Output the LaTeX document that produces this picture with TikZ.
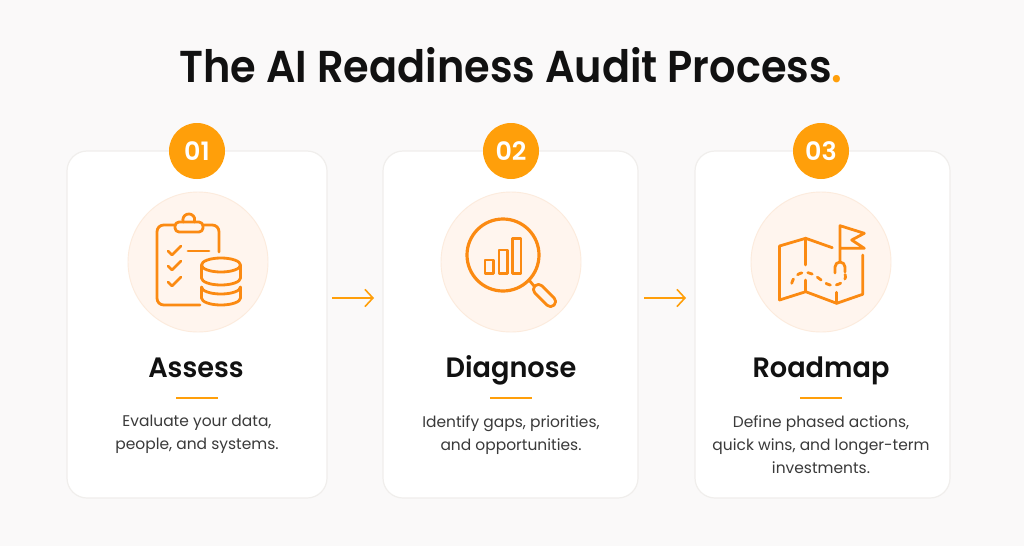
\documentclass[tikz,border=0pt]{standalone}
\usepackage{fontspec}
\setmainfont{Poppins}
\newfontfamily\semi{Poppins SemiBold}
\newfontfamily\semititle[FakeStretch=0.928]{Poppins SemiBold}
\newfontfamily\semihead[FakeStretch=0.97]{Poppins SemiBold}
\usetikzlibrary{arrows.meta}
\definecolor{bgc}{HTML}{FAF9F9}
\definecolor{edgec}{HTML}{F0EEEC}
\definecolor{orb}{HTML}{FF9F0A}
\definecolor{ico}{HTML}{FB8A12}
\definecolor{halo}{HTML}{FFF5EE}
\definecolor{haloe}{HTML}{FCEBDD}
\definecolor{ink}{HTML}{111111}
\definecolor{body}{HTML}{3A3A3A}
\tikzset{
  card/.style={draw=edgec,line width=0.9pt,fill=white,rounded corners=15pt,minimum height=260.25pt,inner sep=0pt},
  badge/.style={circle,fill=orb,text=white,minimum size=42pt,inner sep=0pt,font=\fontsize{19}{19}\selectfont\semi},
  halocirc/.style={circle,fill=halo,draw=haloe,line width=0.7pt,minimum size=105pt,inner sep=0pt},
  cardtitle/.style={text=ink,font=\fontsize{21}{21}\selectfont\semihead,inner sep=0pt,anchor=base},
  cardtext/.style={text=body,font=\fontsize{11.6}{17.3}\selectfont,align=center,inner sep=0pt,anchor=north},
  rule/.style={draw=orb,line width=1.2pt},
  icon/.style={draw=ico,line width=2.1pt,line cap=round,line join=round},
  flow/.style={draw=orb,line width=1.2pt,-{Straight Barb[length=6pt,width=13pt,line width=1.2pt]}}
}
\begin{document}
\begin{tikzpicture}[x=0.75pt,y=-0.75pt]
\useasboundingbox (0,0) rectangle (1024,546);
\fill[bgc] (0,0) rectangle (1024,546);
\node[text=ink,font=\fontsize{33.5}{33.5}\selectfont\semititle,inner sep=0pt,anchor=base] (title) at (511,82) {The AI Readiness Audit Process\textcolor{orb}{.}};
\node[card,minimum width=195pt] (c1) at (197,324.5) {};
\node[card,minimum width=191.25pt] (c2) at (510.5,324.5) {};
\node[card,minimum width=191.25pt] (c3) at (822.5,324.5) {};
\node[badge] (b1) at (197,151) {01};
\node[badge] (b2) at (511,151) {02};
\node[badge] (b3) at (821,151) {03};
\node[halocirc] (h1) at (198,262) {};
\node[halocirc] (h2) at (511,262) {};
\node[halocirc] (h3) at (821,262) {};
\node[cardtitle] (t1) at (196,377) {Assess};
\node[cardtitle] (t2) at (511,377) {Diagnose};
\node[cardtitle] (t3) at (821,377) {Roadmap};
\coordinate (r1a) at (176,398); \coordinate (r1b) at (218,398);
\coordinate (r2a) at (490,398); \coordinate (r2b) at (532,398);
\coordinate (r3a) at (800,398); \coordinate (r3b) at (842,398);
\draw[rule] (r1a) -- (r1b);
\draw[rule] (r2a) -- (r2b);
\draw[rule] (r3a) -- (r3b);
\node[cardtext] (d1) at (197,415) {Evaluate your data,\\people, and systems.};
\node[cardtext] (d2) at (511,415) {Identify gaps, priorities,\\and opportunities.};
\node[cardtext] (d3) at (821,415) {Define phased actions,\\quick wins, and longer-term\\investments.};
\coordinate (a1s) at (332,298); \coordinate (a1e) at (374,298);
\coordinate (a2s) at (644,298); \coordinate (a2e) at (686,298);
\draw[flow] (a1s) -- (a1e);
\draw[flow] (a2s) -- (a2e);
% clipboard icon
\draw[icon,rounded corners=5pt] (200,305) -- (157,305) -- (157,225) -- (175,225);
\draw[icon,rounded corners=5pt] (203,225) -- (219,225) -- (219,252);
\draw[icon,rounded corners=3pt] (175,232) rectangle (203,222);
\draw[icon] (183.2,222) arc[start angle=160,end angle=380,radius=6];
\draw[icon] (168,251) -- (172,255) -- (181,246);
\draw[icon] (168,266) -- (172,270) -- (181,261);
\draw[icon] (168,282) -- (172,286) -- (181,277);
\draw[icon] (188,251) -- (209,251);
\draw[icon] (221,265) ellipse [x radius=19.5,y radius=7];
\draw[icon] (201.5,265) -- (201.5,278) arc[start angle=180,end angle=0,x radius=19.5,y radius=7] -- (240.5,265);
\draw[icon] (201.5,287) arc[start angle=180,end angle=0,x radius=19.5,y radius=7] -- (240.5,298) arc[start angle=0,end angle=180,x radius=19.5,y radius=7] -- cycle;
% magnifier icon
\draw[icon,line width=2.4pt] (503,255) circle[radius=36];
\draw[icon] (485,260) rectangle (493.3,273.3);
\draw[icon] (499,250) rectangle (507.3,273.3);
\draw[icon] (512.7,238.5) rectangle (521,273.3);
\draw[icon] (529,280) -- (534,286);
\draw[icon,rounded corners=3.5pt,rotate around={-45:(544.5,295.5)}] (531,290.5) rectangle (558,300.5);
% map icon
\draw[icon] (779.5,300) -- (779.5,246) -- (805.7,238.3) -- (832.3,247.7);
\draw[icon] (805.7,238.3) -- (805.7,265);
\draw[icon] (805.7,280) -- (805.7,291.7);
\draw[icon] (779.5,300) -- (805.7,291.7) -- (836.7,303.3) -- (862.7,294.3) -- (862.7,255);
\draw[icon] (836.7,292.3) -- (836.7,303.3);
\draw[icon] (840,261) -- (840,225.7) -- (864.3,233.3) -- (851.7,240) -- (864.3,248.3) -- (840,248.3);
\draw[icon] (835,273) -- (835,267) arc[start angle=180,end angle=360,radius=5] -- (845,272);
\draw[icon,dash pattern=on 3.5pt off 4.5pt] (791.7,283.3) .. controls (794,274) and (803,270) .. (812,274) .. controls (822,279) and (826,287) .. (836,285) .. controls (844,283) and (847,278) .. (845,274);
\end{tikzpicture}
\end{document}
